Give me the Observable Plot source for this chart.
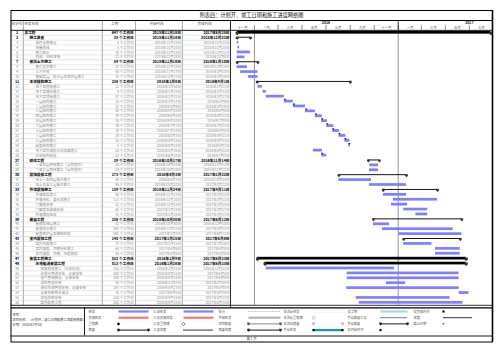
<!DOCTYPE html>
<html><head><meta charset="utf-8">
<script src="https://cdn.jsdelivr.net/npm/d3@7"></script>
<script src="https://cdn.jsdelivr.net/npm/@observablehq/plot@0.6"></script>
<style>
html,body{margin:0;padding:0;background:#fff;}
#chart svg{display:block;}
</style></head><body><div id="chart"></div>
<script>
// ---------------- data ----------------
const chartTitle = "附表四：计划开、竣工日期和施工进度网络图";
const headerLabels = ["标识号", "任务名称", "工期", "开始时间", "完成时间"];
const taskNames = [
 "总工程","施工准备","临时设施搭设","测量放线","施工降水","机械、材料进场",
 "基坑土方施工","基坑支护施工","土方开挖","基础垫层、防水层及保护层施工",
 "主体结构施工","地下室底板施工","地下室墙柱施工","地下室顶板施工","一层结构施工","二层结构施工","三层结构施工","四层结构施工","五层结构施工","六层结构施工","七层结构施工","八层结构施工","九层结构施工","屋面结构施工","地下室外墙防水及回填施工","主体结构验收",
 "砌体工程","一至五层砌体施工（含构造柱）","六至九层砌体施工（含构造柱）",
 "装饰装修工程","地上一至四层抹灰施工","地上五至九层抹灰施工",
 "外墙装饰施工","外墙保温施工","外墙涂料、真石漆施工","门窗框安装","门窗扇及玻璃安装","外墙清理验收",
 "屋面工程","屋面找坡层施工","屋面防水施工","屋面保护层及细部处理",
 "室内装饰工程","室内地面施工","室内墙面、顶棚涂料施工","室内墙面、顶棚、地面装修",
 "安装工程施工","水电暖通安装工程","预留预埋施工（主体阶段）","给排水管道安装、设备安装","电气管线敷设、设备安装","消防管道安装","通风空调管道安装、设备安装","设备系统联合调试","弱电系统安装","室外配套工程"
];
const taskLevel = [0, 1,2,2,2,2, 1,2,2,2, 1,2,2,2,2,2,2,2,2,2,2,2,2,2,2,2, 1,2,2, 1,2,2, 1,2,2,2,2,2, 1,2,2,2, 1,2,2,2, 1,2,3,3,3,3,3,3,3,3];
const summaryIds = [1,2,7,11,27,30,33,39,43,47,48];
const thickSummaryIds = [1,47,48];
const taskDurations = [647,35,5,5,35,21, 54,27,45,25, 238,12,9,47,24,32,26,19,16,19,19,19,14,5,24,14, 29,24,24, 173,84,95, 139,60,113,42,62,31, 226,42,181,161, 145,73,64,64, 532,513,328,286,286,50,287,26,240,265];
const taskStarts = [
 "2015-11-18","2015-11-18","2015-11-18","2015-11-20","2015-11-18","2015-11-18",
 "2015-11-18","2015-11-18","2015-11-27","2015-12-17",
 "2016-01-08","2016-01-10","2016-01-23","2016-01-31","2016-03-17","2016-04-09","2016-05-10","2016-06-04","2016-06-20","2016-07-03","2016-07-18","2016-08-03","2016-08-18","2016-08-28","2016-05-30","2016-06-20",
 "2016-10-17","2016-10-20","2016-10-20",
 "2016-08-03","2016-08-03","2016-10-20",
 "2016-11-24","2016-11-24","2016-12-20","2016-12-15","2017-01-15","2017-02-15",
 "2016-10-30","2016-10-30","2016-11-22","2017-01-03",
 "2017-01-15","2017-01-15","2017-04-06","2017-04-06",
 "2016-01-09","2016-01-28","2016-01-31","2016-08-24","2016-08-24","2016-12-02","2016-08-23","2017-06-05","2016-09-16","2016-09-24"
];
const taskFinishes = [
 "2017-08-25","2015-12-22","2015-11-22","2015-11-24","2015-12-22","2015-12-08",
 "2016-01-10","2015-12-14","2016-01-10","2016-01-10",
 "2016-09-01","2016-01-21","2016-01-31","2016-03-17","2016-04-09","2016-05-10","2016-06-04","2016-06-22","2016-07-05","2016-07-21","2016-08-05","2016-08-21","2016-08-31","2016-09-01","2016-06-22","2016-07-03",
 "2016-11-14","2016-11-12","2016-11-12",
 "2017-01-22","2016-10-25","2017-01-22",
 "2017-04-11","2017-01-22","2017-04-11","2017-01-25","2017-03-17","2017-03-17",
 "2017-06-12","2016-12-10","2017-05-21","2017-06-12",
 "2017-06-08","2017-03-28","2017-06-08","2017-06-08",
 "2017-06-23","2017-06-23","2016-12-23","2017-06-05","2017-06-05","2017-01-20","2017-06-05","2017-06-30","2017-05-13","2017-06-15"
];
const linkedTaskIds = [15,16,17,18,19,20,21,22,23,24,26];
const timeDomain = ["2015-11-01", "2017-08-29"];
const yearLabels = ["2016", "2017"];
const yearBoundaries = ["2016-01-01", "2017-01-01"];
const monthTicks = ["2015-11-01","2016-01-01","2016-03-01","2016-05-01","2016-07-01","2016-09-01","2016-11-01","2017-01-01","2017-03-01","2017-05-01","2017-07-01"];
const monthLabels = ["十一月","一月","三月","五月","七月","九月","十一月","一月","三月","五月","七月"];
const legendLabels = [
 ["任务","关键任务","里程碑","摘要"],
 ["汇总任务","汇总关键任务","汇总里程碑","汇总进度"],
 ["拆分","外部任务","项目摘要","摘要进度"],
 ["非活动任务","非活动里程碑","非活动摘要","手动任务"],
 ["仅工期","手动摘要汇总","手动摘要","仅开始时间"],
 ["仅完成时间","进度","截止日期"]
];
const noteLines = ["项目：", "项目名称：（计划开、竣工日期和施工进度网络图）", "日期：2016年1月5日"];
const footerText = "第 1 页";

// ---------------- layout ----------------
const W = 502, H = 352;
const GX0 = 230, GX1 = 492;
const ROW_TOP = 29.85, ROW_BOTTOM = 304.8;
const BW = (ROW_BOTTOM - ROW_TOP) / taskNames.length;
const FONT = "'Noto Sans CJK SC', 'Noto Sans', sans-serif";

const parse = d3.utcParse("%Y-%m-%d");
const fmt = d3.utcFormat("%Y年%-m月%-d日");
const rows = taskNames.map((name, i) => ({
  id: i + 1, name, level: taskLevel[i], dur: taskDurations[i],
  start: parse(taskStarts[i]), end: parse(taskFinishes[i]),
  summary: summaryIds.includes(i + 1), thick: thickSummaryIds.includes(i + 1)
}));

const box = (x1, y1, x2, y2, o = {}) => Plot.frame({insetLeft: x1, insetTop: y1, insetRight: W - x2, insetBottom: H - y2, ...o});
const hline = (y, x1, x2, o = {}) => Plot.ruleY([0], {y: null, dy: y - H / 2, insetLeft: x1, insetRight: W - x2, stroke: "#000", strokeWidth: 1, ...o});
const vline = (x, y1, y2, o = {}) => Plot.ruleX([0], {x: null, dx: x - W / 2, insetTop: y1, insetBottom: H - y2, stroke: "#000", strokeWidth: 1, ...o});
const fixedText = (str, x, y, o = {}) => Plot.text([str], {text: d => d, frameAnchor: "top-left", dx: x, dy: y, lineAnchor: "middle", textAnchor: "start", fontSize: 3.4, fill: "#222", ...o});
const fixedDot = (x, y, o = {}) => Plot.dot([0], {frameAnchor: "top-left", dx: x, dy: y, r: 1.3, fill: "#000", stroke: "none", ...o});

// custom symbols
const house = {draw(c, size) { const r = Math.sqrt(size / Math.PI); c.moveTo(-r, -r); c.lineTo(r, -r); c.lineTo(r, 0.25 * r); c.lineTo(0, 1.25 * r); c.lineTo(-r, 0.25 * r); c.closePath(); }};
const downTri = {draw(c, size) { const r = Math.sqrt(size / Math.PI); c.moveTo(-r, -0.7 * r); c.lineTo(r, -0.7 * r); c.lineTo(0, r); c.closePath(); }};

const marks = [];

// table grid
const colEdges = [10.5, 22.7, 101.7, 135, 181.7, 230];
for (let i = 0; i < colEdges.length - 1; i++) marks.push(box(colEdges[i], 20, colEdges[i + 1], ROW_BOTTOM, {stroke: "#a0a0a0", strokeWidth: 0.6}));
marks.push(Plot.ruleY(rows, {y: "id", dy: BW / 2, insetLeft: 10.5, insetRight: W - 230, stroke: "#cccccc", strokeWidth: 0.5}));

// gantt header & gridlines
marks.push(Plot.ruleX(yearBoundaries, {x: d => parse(d), insetTop: ROW_TOP, insetBottom: H - ROW_BOTTOM, stroke: "#8a8a8a", strokeWidth: 0.9}));
marks.push(Plot.ruleX(yearBoundaries.slice(1), {x: d => parse(d), insetTop: 20, insetBottom: H - ROW_TOP, stroke: "#000", strokeWidth: 0.8}));
marks.push(Plot.ruleX(monthTicks, {x: d => parse(d), insetTop: 25, insetBottom: H - ROW_TOP, stroke: "#222", strokeWidth: 0.5}));
marks.push(Plot.text(monthTicks, {x: d => parse(d), text: (d, i) => monthLabels[i], frameAnchor: "top", dy: 27.3, dx: 12, lineAnchor: "middle", fontSize: 3.3, fill: "#555"}));
marks.push(Plot.text(yearLabels, {x: d => new Date(Date.UTC(+d, 6, 1)), text: d => d, frameAnchor: "top", dy: 22.4, lineAnchor: "middle", fontSize: 3.5, fontWeight: "bold", fill: "#111"}));

// table header
const headerPos = [[16.6, "middle"], [24, "start"], [114, "middle"], [156, "middle"], [204, "middle"]];
headerLabels.forEach((t, i) => marks.push(fixedText(t, headerPos[i][0], 23.4, {textAnchor: headerPos[i][1], fontSize: 3.5, fill: "#555"})));

// title
marks.push(fixedText(chartTitle, 251, 15.2, {textAnchor: "middle", fontSize: 5.2, fill: "#111"}));

// table rows text
const indentX = [24, 29, 35, 40];
for (const summ of [false, true]) {
  const st = {y: "id", frameAnchor: "left", lineAnchor: "middle", fontSize: summ ? 3.7 : 3.5, fill: summ ? "#000" : "#8c8c8c", fontWeight: summ ? "bold" : "normal"};
  const f = d => d.summary === summ;
  marks.push(Plot.text(rows, {...st, filter: f, text: d => String(d.id), dx: 16.6, textAnchor: "middle"}));
  for (let L = 0; L < indentX.length; L++) {
    marks.push(Plot.text(rows, {...st, filter: d => f(d) && d.level === L, text: "name", dx: indentX[L], textAnchor: "start"}));
  }
  marks.push(Plot.text(rows, {...st, filter: f, text: d => `${d.dur} 个工作日`, dx: 133.3, textAnchor: "end"}));
  marks.push(Plot.text(rows, {...st, filter: f, text: d => fmt(d.start), dx: 180.4, textAnchor: "end"}));
  marks.push(Plot.text(rows, {...st, filter: f, text: d => fmt(d.end), dx: 229, textAnchor: "end"}));
}

// gantt bars
marks.push(Plot.barX(rows, {filter: d => !d.summary, y: "id", x1: "start", x2: "end", fill: "#7f7fff", insetTop: 1.1, insetBottom: 1.1}));
marks.push(Plot.barX(rows, {filter: d => d.summary && !d.thick, y: "id", x1: "start", x2: "end", fill: "#000", insetTop: 2.0, insetBottom: 2.0}));
marks.push(Plot.barX(rows, {filter: d => d.thick, y: "id", x1: "start", x2: "end", fill: "#000", insetTop: 1.1, insetBottom: 1.1}));
for (const k of ["start", "end"]) {
  marks.push(Plot.dot(rows, {filter: d => d.summary && !d.thick, x: k, y: "id", symbol: house, r: 1.35, fill: "#333", dy: 0.3}));
  marks.push(Plot.dot(rows, {filter: d => d.thick, x: k, y: "id", symbol: house, r: 1.6, fill: "#333", dy: 0.5}));
}
const linkedRows = rows.filter(d => linkedTaskIds.includes(d.id));
marks.push(Plot.dot(linkedRows, {x: "start", y: "id", dy: -2.0, dx: 0.6, symbol: downTri, r: 1.2, fill: "#1010b0"}));

// frame lines
marks.push(hline(20, 10.5, 492));
marks.push(hline(ROW_TOP, 10.5, 492, {strokeWidth: 0.9}));
marks.push(vline(230, 20, 307.3, {strokeWidth: 0.8}));
marks.push(hline(ROW_BOTTOM, 10.5, 492, {strokeWidth: 0.8}));
marks.push(hline(307.3, 10.5, 492, {strokeWidth: 1.2}));
marks.push(hline(335.5, 10.5, 492, {strokeWidth: 0.9}));
marks.push(vline(84, 307.3, 335.5, {strokeWidth: 0.9}));
marks.push(box(10.5, 10, 492, 341.5, {stroke: "#000", strokeWidth: 1}));
marks.push(vline(492, 10, 341.5, {strokeWidth: 1.6}));

// notes + footer
const noteY = [314.3, 319.3, 324.3];
noteLines.forEach((t, i) => marks.push(fixedText(t, 12, noteY[i], {fontSize: 3.2, fill: "#444"})));
marks.push(fixedText(footerText, 251, 338.6, {textAnchor: "middle", fontSize: 3.4, fill: "#444"}));

// legend
const legCols = [[88, 118, 148], [153, 183, 213], [218, 248, 280], [283, 313, 342], [347, 380, 407], [413, 443, 472]];
const legY = [311, 317.2, 323.4, 329.6];
const barSym = (x1, x2, y, o) => box(x1, y - 1.1, x2, y + 1.1, {stroke: "none", ...o});
function legendSymbol(c, r) {
  const [, a, b] = legCols[c];
  const y = legY[r];
  const key = c + "-" + r;
  switch (key) {
    case "0-0": case "1-0": return [barSym(a, b, y, {fill: "#7f7fff"})];
    case "0-1": case "1-1": return [barSym(a, b, y, {fill: "#f47878"})];
    case "0-2": return [fixedDot(a, y, {symbol: "diamond2", r: 1.5})];
    case "1-2": return [fixedDot(a, y, {symbol: "diamond2", r: 1.5, fill: "#fff", stroke: "#333", strokeWidth: 0.6})];
    case "0-3": case "2-3": case "4-2":
      return [hline(y, a, b, {strokeWidth: 0.9}), fixedDot(a, y, {symbol: house, r: 1.3, fill: "#222"}), fixedDot(b, y, {symbol: house, r: 1.3, fill: "#222"})];
    case "1-3": case "5-1": return [hline(y, a, b, {strokeWidth: 0.8})];
    case "2-0": return [hline(y, a, b, {stroke: "#666", strokeWidth: 0.6, strokeDasharray: "0.6,0.9"})];
    case "2-1": return [barSym(a, b, y, {fill: "#b3b3b3"})];
    case "2-2": return [hline(y, a, b, {stroke: "#777", strokeWidth: 0.9}), fixedDot(a, y, {symbol: house, r: 1.3, fill: "#555"}), fixedDot(b, y, {symbol: house, r: 1.3, fill: "#555"})];
    case "3-0": return [barSym(a, b, y, {fill: "#fff", stroke: "#e2e2e2", strokeWidth: 0.4})];
    case "3-1": return [fixedDot(a, y, {symbol: "diamond2", r: 1.5, fill: "#fff", stroke: "#777", strokeWidth: 0.5})];
    case "3-2": return [fixedDot(a, y, {symbol: downTri, r: 1.4, fill: "#fff", stroke: "#777", strokeWidth: 0.5}), fixedDot(b, y, {symbol: downTri, r: 1.4, fill: "#fff", stroke: "#777", strokeWidth: 0.5})];
    case "3-3": return [barSym(a, b, y, {fill: "#1a9aa0"}), fixedDot(a, y, {symbol: "square", r: 1.2}), fixedDot(b, y, {symbol: "square", r: 1.2})];
    case "4-0": return [barSym(a, b, y, {fill: "#a9d5e8"})];
    case "4-1": return [hline(y, a, b, {stroke: "#4a5f7a", strokeWidth: 0.8})];
    case "4-3": return [fixedDot(a, y, {symbol: "square", r: 1.2})];
    case "5-0": return [fixedDot(a, y, {symbol: "square", r: 1.2})];
    case "5-2": return [fixedDot(a, y, {symbol: downTri, r: 1.4, fill: "#44bb44"})];
  }
  return [];
}
legendLabels.forEach((col, c) => col.forEach((lab, r) => {
  marks.push(fixedText(lab, legCols[c][0], legY[r] + 0.3, {fontSize: 3.2, fill: "#555"}));
  marks.push(...legendSymbol(c, r));
}));

const chart = Plot.plot({
  width: W, height: H, margin: 0,
  style: {fontFamily: FONT, background: "#fff", overflow: "visible"},
  x: {type: "utc", domain: timeDomain.map(parse), range: [GX0, GX1], axis: null},
  y: {type: "band", domain: rows.map(d => d.id), range: [ROW_TOP, ROW_BOTTOM], padding: 0, axis: null},
  marks
});
document.getElementById("chart").appendChild(chart);
</script>
</body></html>
